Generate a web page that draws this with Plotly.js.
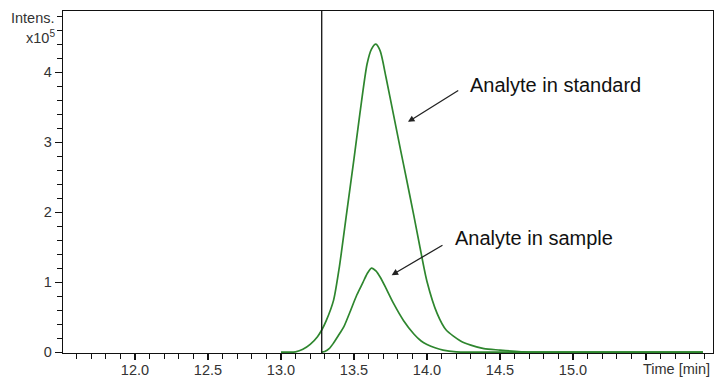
<!DOCTYPE html>
<html>
<head>
<meta charset="utf-8">
<script src="https://cdn.plot.ly/plotly-3.0.1.min.js"></script>
<style>html,body{margin:0;padding:0;background:#fff}#chart{width:714px;height:380px}</style>
</head>
<body>
<div id="chart"></div>
<script>
// Analyte in standard (time in min, intensity in x10^5)
var stdTime = [13.00, 13.05, 13.10, 13.15, 13.20, 13.25, 13.28, 13.31, 13.36, 13.40, 13.45, 13.50, 13.54, 13.59, 13.62, 13.65, 13.68, 13.72, 13.77, 13.82, 13.86, 13.91, 13.95, 14.00, 14.07, 14.13, 14.23, 14.30, 14.39, 14.50, 14.58, 14.66, 14.75, 15.00, 15.50, 15.89];
var stdIntensity = [0, 0, 0.005, 0.04, 0.11, 0.22, 0.32, 0.45, 0.74, 1.22, 1.99, 2.76, 3.40, 4.12, 4.33, 4.40, 4.30, 3.92, 3.40, 2.88, 2.47, 1.95, 1.52, 1.01, 0.55, 0.32, 0.16, 0.10, 0.05, 0.03, 0.015, 0.004, 0, 0, 0, 0];
// Analyte in sample
var sampleTime = [13.28, 13.30, 13.33, 13.36, 13.40, 13.43, 13.47, 13.52, 13.56, 13.59, 13.62, 13.65, 13.68, 13.72, 13.77, 13.84, 13.91, 13.96, 14.00, 14.06, 14.11, 14.20, 14.30, 15.00, 15.89];
var sampleIntensity = [0, 0.01, 0.05, 0.13, 0.26, 0.36, 0.56, 0.82, 0.99, 1.12, 1.20, 1.16, 1.07, 0.91, 0.70, 0.45, 0.26, 0.16, 0.11, 0.06, 0.03, 0.005, 0, 0, 0];
var markerTime = 13.279;
var xTickVals = [12.0, 12.5, 13.0, 13.5, 14.0, 14.5, 15.0, 15.5];
var xTickText = ["12.0", "12.5", "13.0", "13.5", "14.0", "14.5", "15.0", ""];
var yTickVals = [0, 1, 2, 3, 4];
var yTickText = ["0", "1", "2", "3", "4"];
var labels = ["Analyte in standard", "Analyte in sample"];

var green = "#2e862e";
var font = "Liberation Sans, Arial, sans-serif";

var traces = [
  {x: stdTime, y: stdIntensity, mode: "lines", line: {color: green, width: 1.7, shape: "spline", smoothing: 0.7}, hoverinfo: "skip"},
  {x: sampleTime, y: sampleIntensity, mode: "lines", line: {color: green, width: 1.7, shape: "spline", smoothing: 0.7}, hoverinfo: "skip"}
];

var layout = {
  width: 714, height: 380,
  margin: {l: 63, r: 1, t: 11, b: 27, pad: 0},
  paper_bgcolor: "#fff", plot_bgcolor: "#fff",
  showlegend: false,
  font: {family: font, size: 14, color: "#333"},
  xaxis: {
    range: [11.507, 15.959], showgrid: false, zeroline: false,
    showline: true, linecolor: "#111", linewidth: 1.3, mirror: true,
    tickmode: "array", tickvals: xTickVals, ticktext: xTickText,
    ticks: "outside", ticklen: 6, tickwidth: 1.3, tickcolor: "#111",
    ticklabelstandoff: -3,
    minor: {tickmode: "linear", tick0: 0, dtick: 0.1, ticks: "outside", ticklen: 5, tickwidth: 1.3, tickcolor: "#111"},
    tickfont: {family: font, size: 14.5, color: "#333"}
  },
  yaxis: {
    range: [-0.012, 4.874], showgrid: false, zeroline: false,
    showline: true, linecolor: "#111", linewidth: 1.3, mirror: true,
    tickmode: "array", tickvals: yTickVals, ticktext: yTickText,
    ticks: "outside", ticklen: 7, tickwidth: 1.3, tickcolor: "#111",
    minor: {tickmode: "linear", tick0: 0, dtick: 0.2, ticks: "outside", ticklen: 5, tickwidth: 1.3, tickcolor: "#111"},
    tickfont: {family: font, size: 14.5, color: "#333"}
  },
  shapes: [
    {type: "line", xref: "x", yref: "paper", x0: markerTime, x1: markerTime, y0: 0, y1: 1,
     line: {color: "#111", width: 1.3}}
  ],
  annotations: [
    {xref: "x", yref: "y", x: 14.281, y: 3.81, text: labels[0], showarrow: false, xanchor: "left", yanchor: "middle",
     font: {family: font, size: 20, color: "#111"}},
    {xref: "x", yref: "y", x: 13.870, y: 3.29, axref: "x", ayref: "y", ax: 14.238, ay: 3.77, text: " ",
     showarrow: true, arrowhead: 2, arrowsize: 1, arrowwidth: 1.3, arrowcolor: "#222"},
    {xref: "x", yref: "y", x: 14.176, y: 1.63, text: labels[1], showarrow: false, xanchor: "left", yanchor: "middle",
     font: {family: font, size: 20, color: "#111"}},
    {xref: "x", yref: "y", x: 13.758, y: 1.10, axref: "x", ayref: "y", ax: 14.130, ay: 1.557, text: " ",
     showarrow: true, arrowhead: 2, arrowsize: 1, arrowwidth: 1.3, arrowcolor: "#222"},
    {xref: "paper", yref: "paper", x: 1, y: 0, yshift: -16, xshift: -1, text: "Time [min]", showarrow: false,
     xanchor: "right", yanchor: "middle", font: {family: font, size: 14.5, color: "#333"}},
    {xref: "paper", yref: "paper", x: 0, y: 1, xshift: -6, yshift: -7, text: "Intens.", showarrow: false,
     xanchor: "right", yanchor: "middle", font: {family: font, size: 14.5, color: "#333"}},
    {xref: "paper", yref: "paper", x: 0, y: 1, xshift: -6, yshift: -26, text: "x10<sup>5</sup>", showarrow: false,
     xanchor: "right", yanchor: "middle", font: {family: font, size: 14.5, color: "#333"}}
  ]
};

Plotly.newPlot("chart", traces, layout, {staticPlot: true, displayModeBar: false});
</script>
</body>
</html>
